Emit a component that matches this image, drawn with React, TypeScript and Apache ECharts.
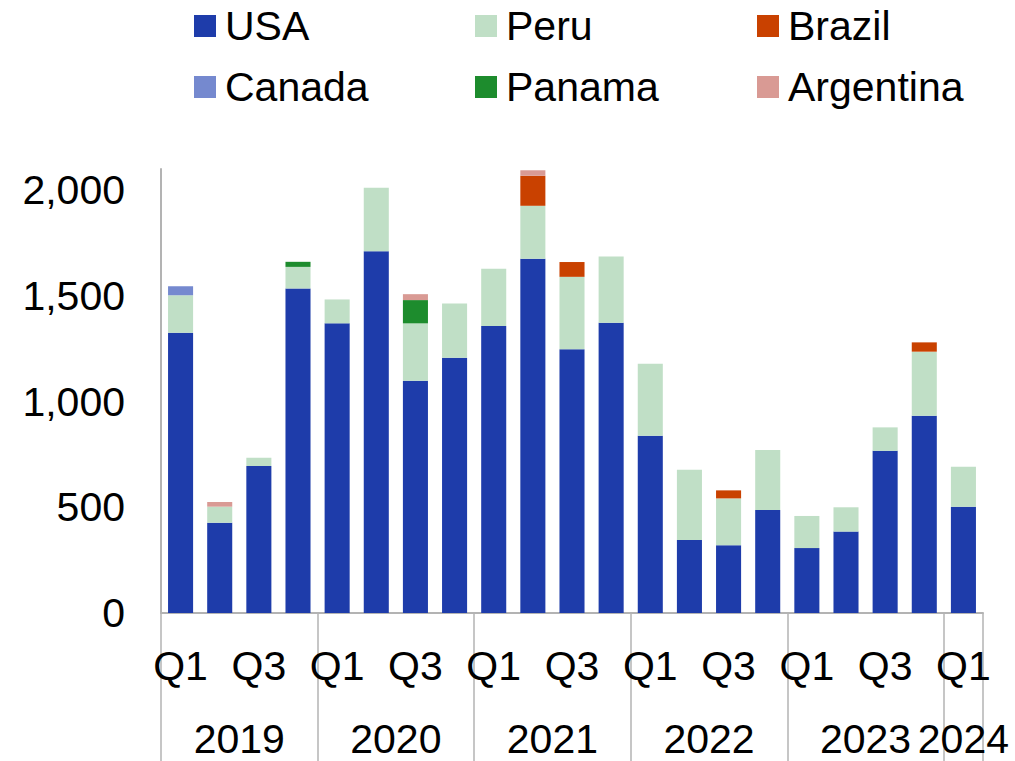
import React, { useEffect, useRef } from "react";
import * as echarts from "echarts";

const quarters = [
  "Q1", "Q2", "Q3", "Q4",
  "Q1", "Q2", "Q3", "Q4",
  "Q1", "Q2", "Q3", "Q4",
  "Q1", "Q2", "Q3", "Q4",
  "Q1", "Q2", "Q3", "Q4",
  "Q1",
];
const years = ["2019", "2020", "2021", "2022", "2023", "2024"];
const quartersPerYear = [4, 4, 4, 4, 4, 1];

const usa = [1325, 427, 695, 1535, 1370, 1711, 1098, 1207, 1358, 1675, 1248, 1373, 838, 345, 320, 487, 307, 385, 767, 933, 503];
const peru = [178, 76, 39, 102, 113, 300, 272, 257, 270, 251, 342, 313, 341, 333, 222, 284, 152, 115, 111, 303, 189];
const brazil = [0, 0, 0, 0, 0, 0, 0, 0, 0, 142, 70, 0, 0, 0, 38, 0, 0, 0, 0, 44, 0];
const canada = [43, 0, 0, 0, 0, 0, 0, 0, 0, 0, 0, 0, 0, 0, 0, 0, 0, 0, 0, 0, 0];
const panama = [0, 0, 0, 24, 0, 0, 110, 0, 0, 0, 0, 0, 0, 0, 0, 0, 0, 0, 0, 0, 0];
const argentina = [0, 22, 0, 0, 0, 0, 28, 0, 0, 26, 0, 0, 0, 0, 0, 0, 0, 0, 0, 0, 0];

const yTicks = [0, 500, 1000, 1500, 2000];

const FONT = "Liberation Sans, Arial, sans-serif";
const FS = 41;
const AXIS_GRAY = "#b3b3b3";

export default function App() {
  const ref = useRef<HTMLDivElement>(null);

  useEffect(() => {
    if (!ref.current) return;
    const chart = echarts.init(ref.current, undefined, { renderer: "svg" });

    // year boundaries and centres (in quarter units)
    const bounds: number[] = [0];
    const centres: number[] = [];
    let acc = 0;
    quartersPerYear.forEach((n) => {
      centres.push(acc + n / 2);
      acc += n;
      bounds.push(acc);
    });

    const mk = (name: string, data: number[], color: string) => ({
      name,
      type: "bar",
      stack: "total",
      data,
      barCategoryGap: "36%",
      itemStyle: { color },
      emphasis: { disabled: true },
    });

    const legendBase = {
      orient: "vertical",
      top: 4,
      padding: 0,
      itemWidth: 22,
      itemHeight: 22,
      itemGap: 17,
      icon: "rect",
      selectedMode: false,
      textStyle: {
        fontFamily: FONT,
        fontSize: FS,
        color: "#000",
        lineHeight: 44,
        padding: [0, 0, 0, 4],
      },
    };

    chart.setOption({
      animation: false,
      textStyle: { fontFamily: FONT },
      legend: [
        { ...legendBase, left: 194, data: ["USA", "Canada"] },
        { ...legendBase, left: 475, data: ["Peru", "Panama"] },
        { ...legendBase, left: 757, data: ["Brazil", "Argentina"] },
      ],
      grid: { left: 161, right: 32, top: 169, bottom: 148, containLabel: false },
      xAxis: [
        {
          type: "category",
          data: quarters,
          position: "bottom",
          axisLine: { show: true, lineStyle: { color: AXIS_GRAY, width: 2 } },
          axisTick: { show: false },
          axisLabel: {
            interval: 1,
            margin: 32,
            fontFamily: FONT,
            fontSize: FS,
            color: "#000",
          },
        },
        {
          type: "value",
          position: "bottom",
          min: 0,
          max: quarters.length,
          axisLine: { show: false },
          splitLine: { show: false },
          axisTick: {
            show: true,
            customValues: bounds,
            length: 160,
            lineStyle: { color: AXIS_GRAY, width: 1.5 },
          },
          axisLabel: {
            customValues: centres,
            margin: 108,
            lineHeight: 36,
            fontFamily: FONT,
            fontSize: FS,
            color: "#000",
            formatter: (v: number) => {
              const i = centres.indexOf(v);
              return i >= 0 ? years[i] : "";
            },
          },
        },
      ],
      yAxis: {
        type: "value",
        min: 0,
        max: 2100,
        interval: 500,
        axisLine: { show: true, lineStyle: { color: AXIS_GRAY, width: 2 } },
        axisTick: { show: false },
        splitLine: { show: false },
        axisLabel: {
          customValues: yTicks,
          margin: 36,
          fontFamily: FONT,
          fontSize: FS,
          color: "#000",
          formatter: (v: number) => v.toLocaleString("en-US"),
        },
      },
      series: [
        mk("USA", usa, "#1e3caa"),
        mk("Peru", peru, "#c0dfc6"),
        mk("Brazil", brazil, "#c94100"),
        mk("Canada", canada, "#7589cf"),
        mk("Panama", panama, "#1d8c2d"),
        mk("Argentina", argentina, "#d99a94"),
      ],
    });

    return () => chart.dispose();
  }, []);

  return (
    <div
      ref={ref}
      style={{ position: "fixed", left: 0, top: 0, width: 1015, height: 761, background: "#fff" }}
    />
  );
}
